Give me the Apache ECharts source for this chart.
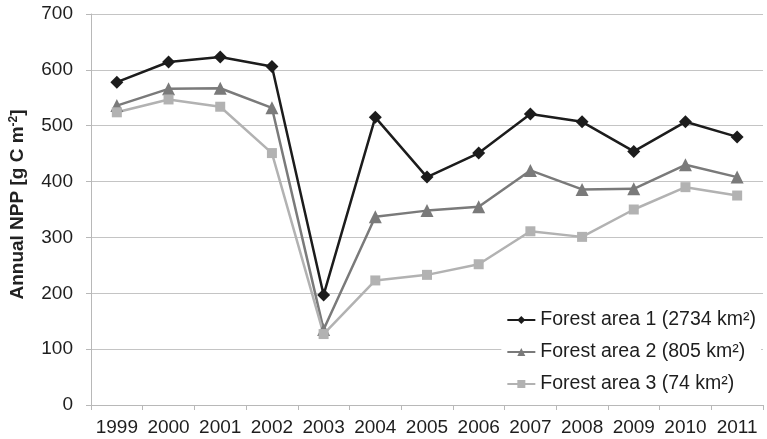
<!DOCTYPE html>
<html>
<head>
<meta charset="utf-8">
<script src="https://cdn.jsdelivr.net/npm/echarts@6/dist/echarts.min.js"></script>
<style>
  html, body { margin: 0; padding: 0; background: #fff; }
  #chart { width: 767px; height: 439px; }
</style>
</head>
<body>
<div id="chart"></div>
<script>
// Annual net primary production per forest area, 1999–2011
const years = ['1999', '2000', '2001', '2002', '2003', '2004', '2005', '2006', '2007', '2008', '2009', '2010', '2011'];
const forestArea1 = [578, 614, 623, 606, 197, 515, 408, 451, 521, 507, 454, 507, 480];
const forestArea2 = [536, 566, 567, 532, 135, 337, 348, 355, 420, 386, 387, 430, 408];
const forestArea3 = [524, 547, 534, 451, 127, 223, 233, 252, 311, 301, 350, 390, 375];
const seriesNames = ['Forest area 1 (2734 km²)', 'Forest area 2 (805 km²)', 'Forest area 3 (74 km²)'];
const yTicks = { min: 0, max: 700, interval: 100 };

const font = 'Liberation Sans, Arial, sans-serif';
const chart = echarts.init(document.getElementById('chart'), null, { renderer: 'canvas' });

function lineSeries(name, data, color, symbol, size) {
  return {
    name: name,
    type: 'line',
    data: data,
    symbol: symbol,
    symbolSize: size,
    showAllSymbol: true,
    lineStyle: { color: color, width: 2.5 },
    itemStyle: { color: color },
    emphasis: { disabled: true },
    animation: false
  };
}

chart.setOption({
  backgroundColor: '#ffffff',
  animation: false,
  grid: { left: 90, right: 4, top: 14, bottom: 34, containLabel: false },
  legend: {
    orient: 'vertical',
    right: 6,
    bottom: 40,
    itemWidth: 28,
    itemHeight: 10,
    itemGap: 12,
    backgroundColor: '#ffffff',
    textStyle: { fontFamily: font, fontSize: 19.5, color: '#1e1e1e' },
    data: seriesNames
  },
  xAxis: {
    type: 'category',
    data: years,
    boundaryGap: true,
    axisLine: { lineStyle: { color: '#b8b8b8', width: 1 } },
    axisTick: { show: true, length: 5, lineStyle: { color: '#b8b8b8' } },
    axisLabel: { interval: 0, fontFamily: font, fontSize: 19, color: '#1e1e1e', margin: 13 }
  },
  yAxis: {
    type: 'value',
    min: yTicks.min,
    max: yTicks.max,
    interval: yTicks.interval,
    name: '{m|Annual NPP [g C m}{s|-2}{m|]}',
    nameLocation: 'middle',
    nameGap: 63,
    nameTextStyle: {
      padding: [0, 0, 0, 10],
      rich: {
        m: { fontFamily: font, fontSize: 19, fontWeight: 'bold', color: '#222' },
        s: { fontFamily: font, fontSize: 12, fontWeight: 'bold', color: '#222', verticalAlign: 'top', padding: [0, 0, 8, 0] }
      }
    },
    axisLine: { show: true, lineStyle: { color: '#b8b8b8', width: 1 } },
    axisTick: { show: true, length: 5, lineStyle: { color: '#b8b8b8' } },
    axisLabel: { fontFamily: font, fontSize: 19, color: '#1e1e1e', margin: 18 },
    splitLine: { lineStyle: { color: '#c4c4c4', width: 1 } }
  },
  series: [
    lineSeries(seriesNames[0], forestArea1, '#1c1c1c', 'diamond', 13),
    lineSeries(seriesNames[1], forestArea2, '#7a7a7a', 'triangle', 13),
    lineSeries(seriesNames[2], forestArea3, '#b2b2b2', 'rect', 10)
  ]
});
</script>
</body>
</html>
